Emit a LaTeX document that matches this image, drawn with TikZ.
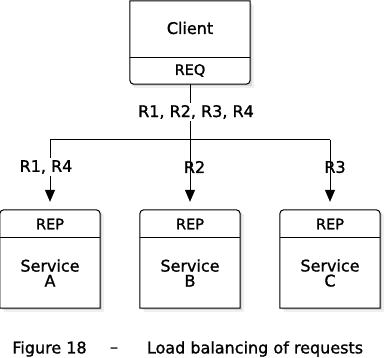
\documentclass[tikz,border=0pt]{standalone}
\usepackage{fontspec}
\setmainfont[FakeBold=1.2]{DejaVu Sans}
\usetikzlibrary{arrows.meta,calc}
\begin{document}
\begin{tikzpicture}[x=1pt,y=1pt,
  font=\fontsize{16}{15}\selectfont,
  boxnode/.style={draw=none, inner sep=0pt, minimum width=120pt, minimum height=83pt},
  svcnode/.style={draw=none, inner sep=0pt, minimum width=100pt, minimum height=98pt},
  txt/.style={inner sep=1pt, align=center},
  port/.style={inner sep=1pt, font=\fontsize{14.5}{15}\selectfont},
  outline/.style={draw=black, line width=1pt, fill=white},
  shadowA/.style={fill=black, opacity=0.10},
  shadowB/.style={fill=black, opacity=0.06},
  conn/.style={line width=1pt},
  arr/.style={line width=1pt, -{Triangle[length=12pt,width=10pt]}, shorten >=8pt}]
\useasboundingbox (0,0) rectangle (386,-358);

% --- invisible frame nodes ---
\node[boxnode] (client) at (190,-42.5) {};
\node[svcnode] (svcA) at (50,-259) {};
\node[svcnode] (svcB) at (190,-259) {};
\node[svcnode] (svcC) at (330,-259) {};

% --- shadows ---
\foreach \n in {client,svcA,svcB,svcC}{
  \fill[shadowB] ($(\n.north west)+(4,-4)$) rectangle ($(\n.south east)+(4,-4)$);
  \fill[shadowA] ($(\n.north west)+(2,-2)$) rectangle ($(\n.south east)+(2,-2)$);
}

% --- client outline: square top, rounded bottom ---
\draw[outline] (client.north west) -- (client.north east)
  -- ($(client.south east)+(0,4)$) arc[start angle=0,end angle=-90,radius=4]
  -- ($(client.south west)+(4,0)$) arc[start angle=270,end angle=180,radius=4]
  -- cycle;
\draw[conn] ($(client.south west)+(0,27)$) -- ($(client.south east)+(0,27)$);

% --- service outlines: rounded top, square bottom ---
\foreach \n in {svcA,svcB,svcC}{
  \draw[outline] (\n.south west) -- ($(\n.north west)+(0,-4)$)
    arc[start angle=180,end angle=90,radius=4]
    -- ($(\n.north east)+(-4,0)$) arc[start angle=90,end angle=0,radius=4]
    -- (\n.south east) -- cycle;
  \draw[conn] ($(\n.north west)+(0,-28)$) -- ($(\n.north east)+(0,-28)$);
}

% --- texts in boxes ---
\node[txt] (clientT) at (190,-28) {Client};
\node[port] (reqT) at (190,-70.5) {REQ};
\node[port] (repA) at (50,-224) {REP};
\node[port] (repB) at (190,-224) {REP};
\node[port] (repC) at (330,-224) {REP};
\node[txt] (nameA) at (50,-273) {Service\\A};
\node[txt] (nameB) at (190,-273) {Service\\B};
\node[txt] (nameC) at (330,-273) {Service\\C};

% --- connectors ---
\coordinate (split) at (190,-140);
\coordinate (leftEnd) at (50,-140);
\coordinate (rightEnd) at (330,-140);
\draw[conn] (client.south) -- (split);
\draw[conn] (leftEnd) -- (rightEnd);
\draw[arr] (leftEnd) -- (svcA.north);
\draw[arr] (split) -- (svcB.north);
\draw[arr] (rightEnd) -- (svcC.north);

% --- connector labels ---
\node[txt, fill=white, inner sep=2pt] (labAll) at (196,-112) {R1, R2, R3, R4};
\node[txt, fill=white, inner sep=2pt] (labA) at (46,-167) {R1, R4};
\node[txt] (labB) at (194.5,-167) {R2};
\node[txt] (labC) at (335,-167) {R3};

% --- caption ---
\node[txt] (capA) at (49.5,-349) {Figure 18};
\node[txt] (capB) at (114,-350) {–};
\node[txt] (capC) at (255,-349) {Load balancing of requests};
\end{tikzpicture}
\end{document}
